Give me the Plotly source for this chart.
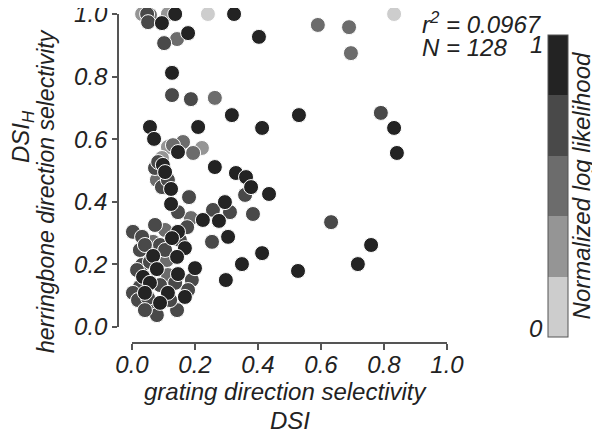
import plotly.graph_objects as go

# grating DSI (x), herringbone DSI_H (y), normalized log likelihood (colour)
dsi = [0.032, 0.048, 0.051, 0.095, 0.114, 0.137, 0.241, 0.324, 0.178, 0.143,
       0.102, 0.403, 0.590, 0.689, 0.695, 0.832, 0.127, 0.127, 0.187, 0.263,
       0.317, 0.530, 0.790, 0.832, 0.841, 0.057, 0.070, 0.210, 0.413, 0.162,
       0.130, 0.114, 0.146, 0.194, 0.222, 0.263, 0.095, 0.098, 0.073, 0.105,
       0.079, 0.095, 0.124, 0.181, 0.124, 0.146, 0.187, 0.330, 0.362, 0.378,
       0.359, 0.435, 0.295, 0.257, 0.311, 0.225, 0.276, 0.384, 0.632, 0.254,
       0.305, 0.413, 0.349, 0.527, 0.298, 0.759, 0.717, 0.175, 0.146, 0.003,
       0.032, 0.127, 0.067, 0.089, 0.168, 0.025, 0.067, 0.143, 0.111, 0.032,
       0.079, 0.146, 0.200, 0.114, 0.190, 0.035, 0.057, 0.025, 0.114, 0.168,
       0.178, 0.003, 0.041, 0.089, 0.067, 0.079, 0.143, 0.019, 0.051,
       0.041, 0.057, 0.105, 0.016, 0.089, 0.137, 0.051, 0.121, 0.073, 0.105,
       0.152, 0.041, 0.057, 0.083, 0.114]
dsi_h = [1.000, 1.000, 0.974, 0.971, 1.000, 1.000, 1.000, 1.000, 0.939, 0.920,
         0.907, 0.927, 0.965, 0.958, 0.875, 1.000, 0.812, 0.741, 0.728, 0.732,
         0.677, 0.677, 0.684, 0.636, 0.556, 0.639, 0.601, 0.639, 0.636, 0.591,
         0.581, 0.575, 0.559, 0.556, 0.572, 0.511, 0.540, 0.518, 0.508, 0.495,
         0.470, 0.447, 0.441, 0.415, 0.393, 0.367, 0.348, 0.492, 0.479, 0.447,
         0.422, 0.425, 0.399, 0.374, 0.367, 0.342, 0.339, 0.361, 0.335, 0.272,
         0.288, 0.236, 0.201, 0.179, 0.150, 0.262, 0.201, 0.319, 0.304, 0.304,
         0.288, 0.284, 0.272, 0.262, 0.252, 0.246, 0.227, 0.224, 0.214, 0.198,
         0.185, 0.169, 0.188, 0.166, 0.150, 0.160, 0.141, 0.128, 0.109, 0.096,
         0.118, 0.109, 0.109, 0.077, 0.061, 0.038, 0.054, 0.086, 0.077,
         0.262, 0.208, 0.246, 0.182, 0.134, 0.141, 0.093, 0.086, 0.326, 0.310,
         0.278, 0.054, 0.997, 0.527, 0.470]
likelihood = [0.3, 0.7, 0.7, 0.9, 0.3, 0.9, 0.1, 0.9, 0.9, 0.5,
              0.7, 0.9, 0.5, 0.5, 0.5, 0.1, 0.9, 0.7, 0.7, 0.5,
              0.9, 0.9, 0.7, 0.9, 0.9, 0.9, 0.9, 0.9, 0.9, 0.5,
              0.5, 0.3, 0.9, 0.5, 0.3, 0.9, 0.3, 0.9, 0.7, 0.9,
              0.5, 0.7, 0.9, 0.7, 0.9, 0.7, 0.5, 0.9, 0.9, 0.9,
              0.7, 0.9, 0.9, 0.7, 0.7, 0.9, 0.9, 0.7, 0.7, 0.7,
              0.9, 0.9, 0.9, 0.9, 0.9, 0.9, 0.9, 0.7, 0.9, 0.7,
              0.7, 0.9, 0.5, 0.7, 0.9, 0.7, 0.9, 0.9, 0.5, 0.7,
              0.9, 0.9, 0.9, 0.5, 0.7, 0.9, 0.9, 0.7, 0.9, 0.9,
              0.7, 0.7, 0.9, 0.9, 0.7, 0.7, 0.7, 0.7, 0.5,
              0.7, 0.7, 0.7, 0.7, 0.7, 0.7, 0.7, 0.7, 0.7, 0.5,
              0.7, 0.7, 0.5, 0.7, 0.7]

tick_vals = [0, 0.2, 0.4, 0.6, 0.8, 1.0]
tick_text = ["0.0", "0.2", "0.4", "0.6", "0.8", "1.0"]
stats_r2 = "0.0967"
stats_n = "128"

grey_scale = [[0.0, "#cdcdcd"], [0.2, "#cdcdcd"],
              [0.2, "#959595"], [0.4, "#959595"],
              [0.4, "#6c6c6c"], [0.6, "#6c6c6c"],
              [0.6, "#494949"], [0.8, "#494949"],
              [0.8, "#232323"], [1.0, "#232323"]]

# draw lighter points first so darker ones sit on top
order = sorted(range(len(dsi)), key=lambda i: likelihood[i])
xs = [dsi[i] for i in order]
ys = [dsi_h[i] for i in order]
cs = [likelihood[i] for i in order]

FONT = "Liberation Sans, Arial, Helvetica, sans-serif"
TXT = "#222222"

fig = go.Figure(go.Scatter(
    x=xs, y=ys, mode="markers", cliponaxis=False,
    marker=dict(size=15, color=cs, colorscale=grey_scale, cmin=0, cmax=1,
                line=dict(color="white", width=1),
                showscale=True,
                colorbar=dict(
                    x=1.12, xanchor="left", y=0.5125, yanchor="middle",
                    xpad=0, ypad=0,
                    lenmode="pixels", len=302,
                    thicknessmode="pixels", thickness=20,
                    outlinewidth=1, outlinecolor="#555555",
                    ticks="", showticklabels=False,
                    title=dict(text="Normalized log likelihood", side="right",
                               font=dict(family=FONT, size=24, color=TXT, style="italic")),
                )),
    hoverinfo="skip", showlegend=False,
))

axis_font = dict(family=FONT, size=24, color=TXT, style="italic")
ytitle_font = dict(family=FONT, size=23, color=TXT, style="italic")
# page body has an 8px margin, so the figure is 8px smaller than the window
fig.update_layout(
    width=592, height=423,
    margin=dict(l=92, r=100, t=2, b=60, autoexpand=False),
    paper_bgcolor="white", plot_bgcolor="white",
    xaxis=dict(range=[0, 1], domain=[0.08, 0.8675], anchor="free", position=0.0776,
               showgrid=False, zeroline=False, showline=True, linecolor="#555555", linewidth=1.5,
               ticks="outside", ticklen=6, tickcolor="#555555", tickwidth=1.5,
               ticklabelstandoff=-6,
               tickvals=tick_vals, ticktext=tick_text, tickfont=axis_font),
    yaxis=dict(range=[0, 1], domain=[0.1219, 0.9889], anchor="free", position=0.045,
               showgrid=False, zeroline=False, showline=True, linecolor="#555555", linewidth=1.5,
               ticks="outside", ticklen=5, tickcolor="#555555", tickwidth=1.5,
               ticklabeloverflow="allow",
               tickvals=tick_vals, ticktext=tick_text, tickfont=axis_font),
    annotations=[
        dict(text="grating direction selectivity", xref="paper", yref="paper",
             x=0.4625, y=-0.058, xanchor="center", yanchor="middle",
             showarrow=False, font=axis_font),
        dict(text="DSI", xref="paper", yref="paper", x=0.475, y=-0.1385,
             xanchor="center", yanchor="middle", showarrow=False, font=axis_font),
        dict(text="DSI<sub>H</sub>", xref="paper", yref="paper", x=-0.195, y=0.648,
             xanchor="center", yanchor="middle", textangle=-90, showarrow=False, font=axis_font),
        dict(text="herringbone direction selectivity", xref="paper", yref="paper",
             x=-0.135, y=0.4986, xanchor="center", yanchor="middle", textangle=-90,
             showarrow=False, font=ytitle_font),
        dict(text=f"r<sup>2</sup> = {stats_r2}", xref="paper", yref="paper", x=0.8, y=0.965,
             xanchor="left", yanchor="middle", showarrow=False, font=axis_font),
        dict(text=f"N = {stats_n}", xref="paper", yref="paper", x=0.8, y=0.8975,
             xanchor="left", yanchor="middle", showarrow=False, font=axis_font),
        dict(text="1", xref="paper", yref="paper", x=1.1125, y=0.9058,
             xanchor="right", yanchor="middle", showarrow=False, font=axis_font),
        dict(text="0", xref="paper", yref="paper", x=1.1125, y=0.119,
             xanchor="right", yanchor="middle", showarrow=False, font=axis_font),
    ],
)

fig.write_html("out.html")
